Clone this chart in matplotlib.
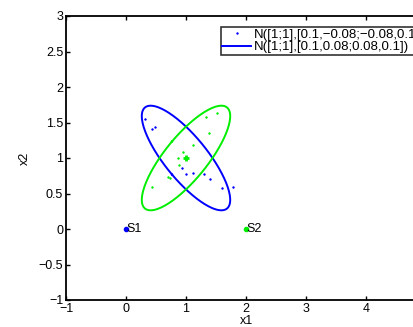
import numpy as np
import matplotlib
matplotlib.use("Agg")
import matplotlib.pyplot as plt

plt.rcParams['font.family'] = ['Liberation Sans', 'DejaVu Sans']

# data
mean = [1.0, 1.0]
cov_neg = [[0.1, -0.08], [-0.08, 0.1]]
cov_pos = [[0.1, 0.08], [0.08, 0.1]]
ell_scale = 2.33

blue_x = [0.317, 0.428, 0.483, 0.928, 1.0, 1.122, 1.305, 1.4, 1.595, 1.778]
blue_y = [1.549, 1.408, 1.441, 0.863, 0.770, 0.793, 0.775, 0.700, 0.582, 0.590]
green_x = [1.512, 1.333, 1.378, 1.112, 0.955, 0.867, 0.878, 0.705, 0.733, 0.428]
green_y = [1.630, 1.582, 1.356, 1.183, 1.085, 1.000, 0.901, 0.737, 0.714, 0.592]

s_names = ['S1', 'S2']
s_x = [0.0, 2.0]
s_y = [0.0, 0.0]
s_colors = ['#0000ff', '#00ee00']

legend_labels = ['N([1;1],[0.1,\u22120.08;\u22120.08,0.1])',
                 'N([1;1],[0.1,0.08;0.08,0.1])']

xlim = (-1, 5)
ylim = (-1, 3)
xticks = [-1, 0, 1, 2, 3, 4]
yticks = [-1, -0.5, 0, 0.5, 1, 1.5, 2, 2.5, 3]
ytick_labels = ['\u22121', '\u22120.5', '0', '0.5', '1', '1.5', '2', '2.5', '3']
xtick_labels = ['\u22121', '0', '1', '2', '3', '4']

BLUE = '#0000ff'
GREEN = '#00ee00'


def ellipse(m, c, k, n=200):
    vals, vecs = np.linalg.eigh(np.array(c))
    t = np.linspace(0, 2 * np.pi, n)
    circ = np.vstack([np.cos(t), np.sin(t)])
    pts = vecs @ np.diag(np.sqrt(vals) * k) @ circ
    return pts[0] + m[0], pts[1] + m[1]


fig = plt.figure(figsize=(4.14, 3.27), dpi=100)
ax = fig.add_axes([66 / 414, 27 / 327, 360 / 414, 284 / 327])

h1, = ax.plot(blue_x, blue_y, '+', color=BLUE, ms=2.0, mew=1.0)
ex, ey = ellipse(mean, cov_neg, ell_scale)
h2, = ax.plot(ex, ey, '-', color=BLUE, lw=1.4)
ax.plot(green_x, green_y, '+', color=GREEN, ms=2.0, mew=1.0)
ex, ey = ellipse(mean, cov_pos, ell_scale)
ax.plot(ex, ey, '-', color=GREEN, lw=1.4)
ax.plot([mean[0]], [mean[1]], '+', color=GREEN, ms=5, mew=2)

for name, x, y, c in zip(s_names, s_x, s_y, s_colors):
    ax.plot([x], [y], '.', color=c, ms=6)
    ax.text(x, y, name, fontsize=9, ha='left', va='center')

ax.set_xlim(*xlim)
ax.set_ylim(*ylim)
ax.set_xticks(xticks)
ax.set_xticklabels(xtick_labels)
ax.set_yticks(yticks)
ax.set_yticklabels(ytick_labels)
ax.tick_params(direction='in', top=True, right=True, length=3, width=1,
               labelsize=9, pad=2)
for s in ax.spines.values():
    s.set_linewidth(1.3)
ax.set_xlabel('x1', fontsize=9, labelpad=0)
ax.set_ylabel('x2', fontsize=9)
ax.yaxis.set_label_coords((31 - 66) / 360, 0.5)

leg = fig.legend([h1, h2], legend_labels, loc='upper left',
                 bbox_to_anchor=(221 / 414, 1 - 27 / 327),
                 fontsize=9.5, frameon=True, fancybox=False,
                 borderpad=0.1, labelspacing=0.05, handlelength=2.2,
                 handletextpad=0.2, borderaxespad=0)
leg.get_frame().set_edgecolor('black')
leg.get_frame().set_linewidth(1.2)

fig.savefig('out.png', dpi=100)
